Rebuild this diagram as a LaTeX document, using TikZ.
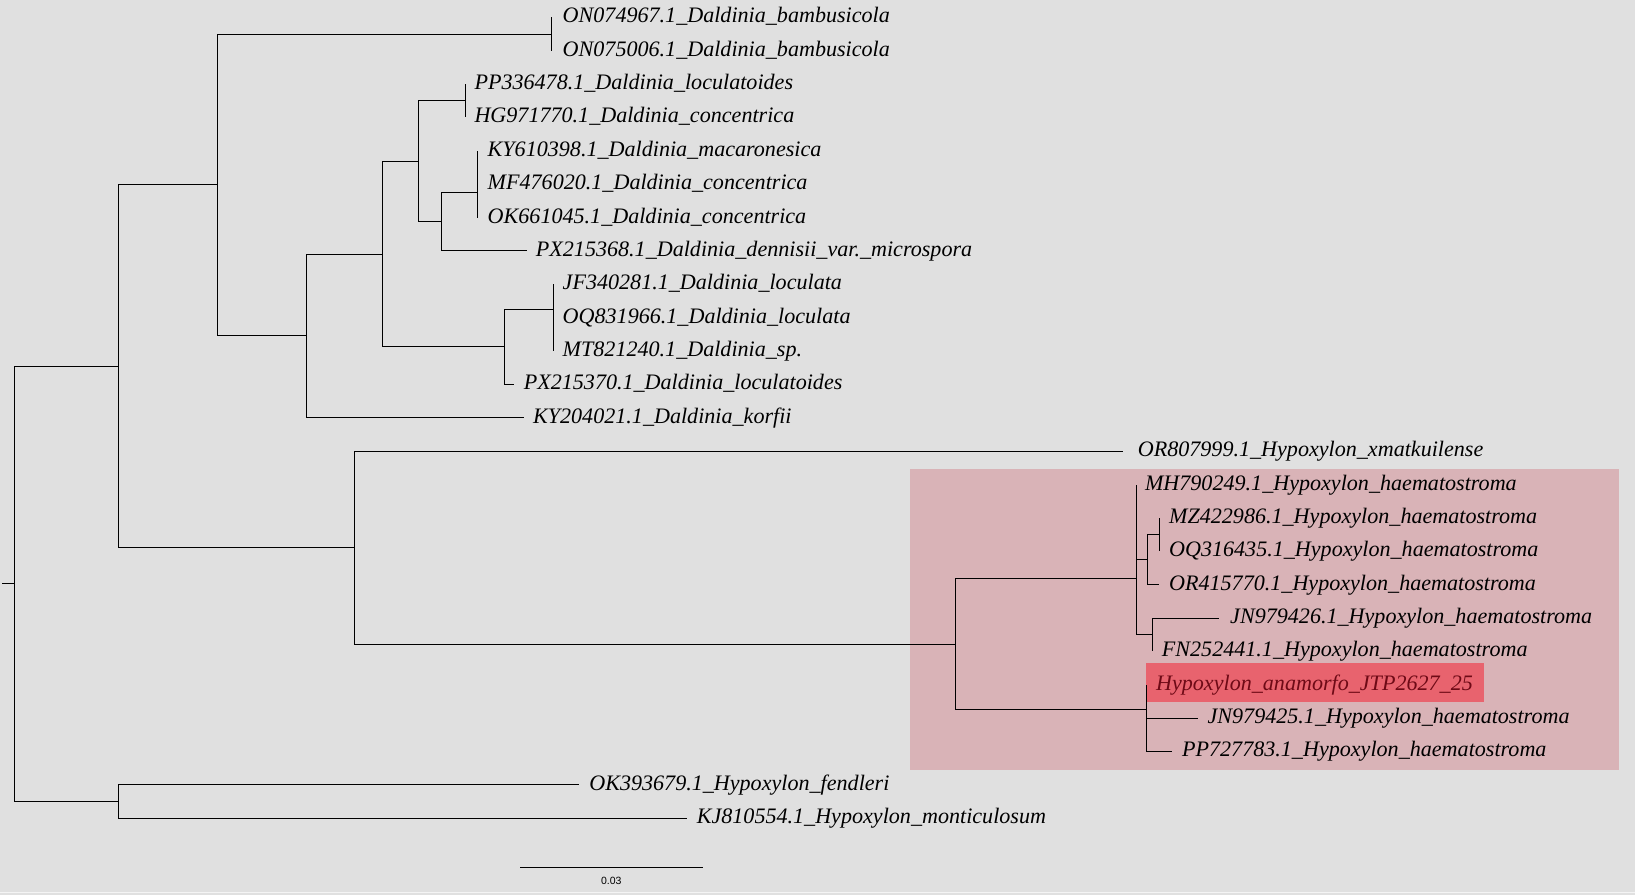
\documentclass[tikz,border=0pt]{standalone}
\usepackage{fontspec}
\setmainfont{Liberation Serif}
\setsansfont{Liberation Sans}
\definecolor{bg}{HTML}{E0E0E0}
\definecolor{hl}{HTML}{D9B3B7}
\definecolor{hlred}{HTML}{E8636E}
\definecolor{redtxt}{HTML}{6E0A16}
\definecolor{edgeline}{HTML}{F4F4F4}
\begin{document}
\begin{tikzpicture}[x=1pt,y=-1pt,
  branch/.style={line width=1pt, black},
  leaf/.style={anchor=base west, inner sep=0pt, font=\itshape\fontsize{22.1}{24}\selectfont},
  scalelabel/.style={anchor=center, inner sep=0pt, font=\sffamily\fontsize{10.5}{12}\selectfont}]
\fill[bg] (0,0) rectangle (1635,895);
\useasboundingbox (0,0) rectangle (1635,895);
\draw[edgeline, line width=1.2pt] (0,892.6) -- (1635,892.6);
% highlight boxes
\fill[hl] (909.9,469) rectangle (1619,769.5);
\fill[hlred] (1146.2,663.3) rectangle (1484.2,701.7);
% leaf tips and labels
\foreach \n/\tx/\ty/\lx/\txt in {
 0/551.8/17.3/562.5/ON074967.1\_Daldinia\_bambusicola,
 1/551.8/50.7/562.5/ON075006.1\_Daldinia\_bambusicola,
 2/465.4/84.0/474.3/PP336478.1\_Daldinia\_loculatoides,
 3/465.4/117.4/474.3/HG971770.1\_Daldinia\_concentrica,
 4/477.5/150.8/487.5/KY610398.1\_Daldinia\_macaronesica,
 5/477.5/184.2/487.5/MF476020.1\_Daldinia\_concentrica,
 6/477.5/217.5/487.5/OK661045.1\_Daldinia\_concentrica,
 7/526.8/250.9/535.7/PX215368.1\_Daldinia\_dennisii\_var.\_microspora,
 8/553.2/284.3/562.5/JF340281.1\_Daldinia\_loculata,
 9/553.2/317.6/562.5/OQ831966.1\_Daldinia\_loculata,
 10/553.2/351.0/562.5/MT821240.1\_Daldinia\_sp.,
 11/514.3/384.4/523.6/PX215370.1\_Daldinia\_loculatoides,
 12/524.3/417.7/532.9/KY204021.1\_Daldinia\_korfii,
 13/1123.1/451.1/1137.6/OR807999.1\_Hypoxylon\_xmatkuilense,
 14/1136.6/484.5/1144.8/MH790249.1\_Hypoxylon\_haematostroma,
 15/1159.2/517.9/1168.9/MZ422986.1\_Hypoxylon\_haematostroma,
 16/1159.2/551.2/1168.9/OQ316435.1\_Hypoxylon\_haematostroma,
 17/1159.2/584.6/1168.9/OR415770.1\_Hypoxylon\_haematostroma,
 18/1219.4/618.0/1230.0/JN979426.1\_Hypoxylon\_haematostroma,
 19/1152.5/651.3/1161.7/FN252441.1\_Hypoxylon\_haematostroma,
 21/1197.8/718.1/1207.4/JN979425.1\_Hypoxylon\_haematostroma,
 22/1172.2/751.4/1181.9/PP727783.1\_Hypoxylon\_haematostroma,
 23/578.7/784.8/589.1/OK393679.1\_Hypoxylon\_fendleri,
 24/686.7/818.2/696.6/KJ810554.1\_Hypoxylon\_monticulosum}
{
 \coordinate (t\n) at (\tx,\ty);
 \node[leaf] (l\n) at (\lx,\ty+5.5) {\txt};
}
\coordinate (t20) at (1146.2,684.7);
\node[leaf, text=redtxt] (l20) at (1155.9,690.2) {Hypoxylon\_anamorfo\_JTP2627\_25};
% internal nodes
\coordinate (tail) at (2.1,583.9);
\coordinate (root) at (14.3,583.9);
\coordinate (A) at (118.2,366.2);
\coordinate (B) at (217.5,184.9);
\coordinate (bam) at (551.8,34.0);
\coordinate (C) at (306.4,335.9);
\coordinate (D) at (382.5,254.0);
\coordinate (E) at (418.2,161.2);
\coordinate (PH) at (465.4,100.7);
\coordinate (F) at (441.4,221.7);
\coordinate (KMO) at (477.5,192.5);
\coordinate (G) at (504.3,346.85);
\coordinate (JFOM) at (553.2,309.3);
\coordinate (H) at (354.3,547.6);
\coordinate (J) at (955.6,644.0);
\coordinate (K) at (1136.6,578.3);
\coordinate (L) at (1147.2,559.5);
\coordinate (M) at (1159.2,534.55);
\coordinate (N) at (1152.5,634.65);
\coordinate (O) at (1146.2,709.7);
\coordinate (I) at (118.2,801.5);
% branches
\draw[branch] (tail) -- (root);
\foreach \p/\c in {root/A, root/I, A/B, A/H, B/bam, B/C, bam/t0, bam/t1,
  C/D, C/t12, D/E, D/G, E/PH, E/F, PH/t2, PH/t3, F/KMO, F/t7,
  KMO/t4, KMO/t5, KMO/t6, G/JFOM, G/t11, JFOM/t8, JFOM/t9, JFOM/t10,
  H/t13, H/J, J/K, J/O, K/t14, K/L, K/N, L/M, L/t17, M/t15, M/t16,
  N/t18, N/t19, O/t20, O/t21, O/t22, I/t23, I/t24}
{
 \draw[branch] (\p) |- (\c);
}
% scale bar
\coordinate (sb1) at (520.2,867.7);
\coordinate (sb2) at (702.7,867.7);
\draw[line width=1pt] (sb1) -- (sb2);
\node[scalelabel] (sbl) at (611.3,881) {0.03};
\end{tikzpicture}
\end{document}
